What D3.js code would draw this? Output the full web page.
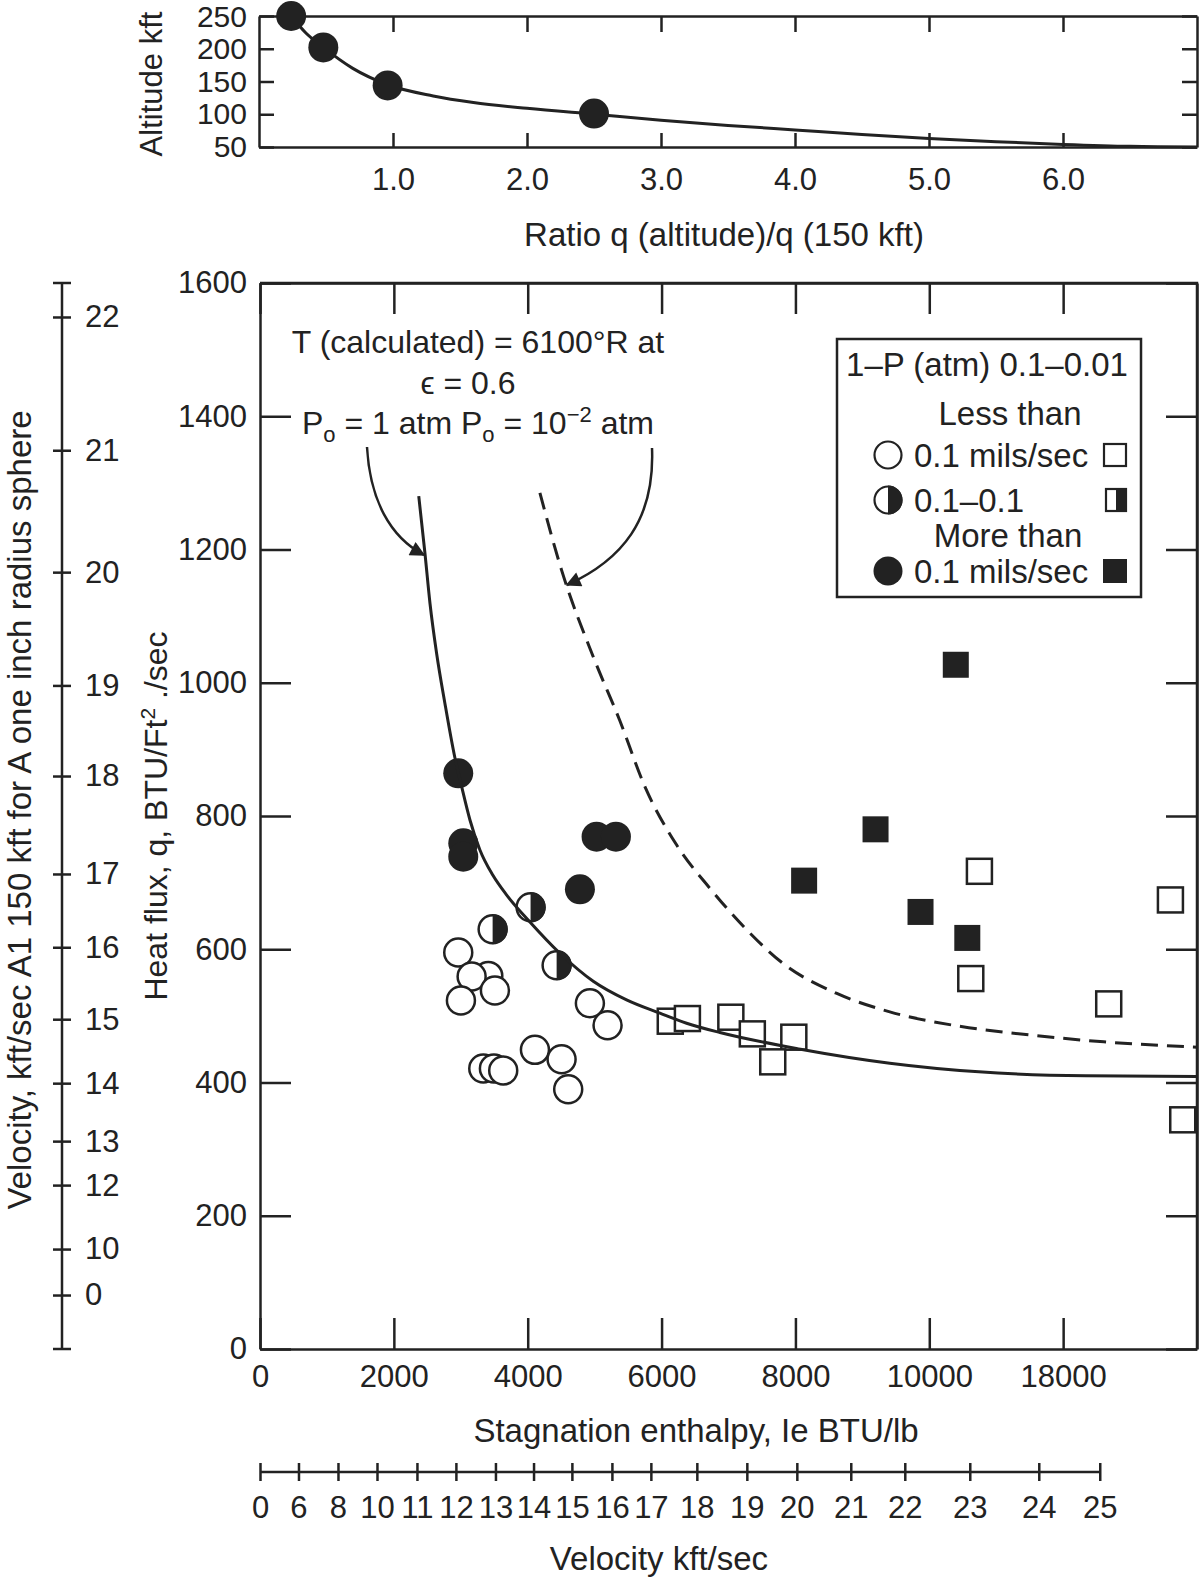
<!DOCTYPE html>
<html><head><meta charset="utf-8">
<script src="https://cdn.jsdelivr.net/npm/d3@7"></script>
<style>
body{margin:0;background:#fff}
text{font-family:"Liberation Sans",Arial,Helvetica,sans-serif;fill:#222}
</style>
</head><body>
<svg id="c" width="1200" height="1579"></svg>
<script>
// ---------- DATA ----------
// Inset: altitude (kft) vs ratio q(alt)/q(150 kft)
const insetDots = [[0.24,250],[0.48,202],[0.96,144],[2.5,101]];
const insetCurve = [[0.24,250],[0.35,224],[0.48,202],[0.7,170],[0.96,145],[1.3,128],[1.6,118],[2.0,109],[2.5,100],[3.0,91],[3.5,83],[4.0,76],[4.5,69],[5.0,63],[5.5,58],[6.0,54],[6.5,51],[7.0,50]];
const insetXTicks = [1,2,3,4,5,6];
const insetXTickLabels = ["1.0","2.0","3.0","4.0","5.0","6.0"];
const insetYTicks = [50,100,150,200,250];

// Main: stagnation enthalpy (axis position units) vs heat flux
const enthalpyTicks = [0,2000,4000,6000,8000,10000,12000];
const enthalpyTickLabels = ["0","2000","4000","6000","8000","10000","18000"];
const heatTicks = [0,200,400,600,800,1000,1200,1400,1600];

const curveP1 = [[2372,1280],[2465,1194],[2540,1119],[2639,1044],[2763,969],[2913,887],[3013,844],[3137,794],[3286,749],[3480,711],[3689,681],[4033,641],[4481,594],[4979,552],[5477,524],[5975,504],[6374,489],[6872,475],[8076,450],[9410,429],[10740,416],[12338,410],[14000,409]];
const curveP2 = [[4182,1285],[4506,1169],[4979,1039],[5377,943],[5751,844],[6209,759],[6743,689],[7274,629],[7811,579],[8610,534],[9410,506],[10477,484],[11545,471],[12607,461],[14000,453]];

const filledCircles = [[2962,864],[3037,759],[3037,739],[5029,769],[5318,769],[4780,690]];
const halfCircles = [[4043,663],[3476,630],[4432,576]];
const openCircles = [[2962,595],[3411,560],[3162,559],[3510,538],[3002,523],[4929,519],[5193,486],[4108,449],[4506,435],[3336,421],[3495,421],[3634,418],[4605,390]];
const filledSquares = [[10396,1027],[9197,780],[8130,703],[9869,656],[10568,617]];
const openSquares = [[10749,717],[13603,674],[10620,556],[12681,518],[6130,492],[6386,496],[7035,498],[7356,473],[7976,468],[7661,431],[13787,344]];

// Left velocity scale (positions in heat-flux units)
const velLeftLabels = ["22","21","20","19","18","17","16","15","14","13","12","10","0"];
const velLeftPos = [1549,1349,1166,996,860,713,603,495,399,312,246,150,81];
// Bottom velocity scale (positions in enthalpy units)
const velBottomLabels = ["0","6","8","10","11","12","13","14","15","16","17","18","19","20","21","22","23","24","25"];
const velBottomPos = [0,575,1165,1748,2345,2927,3518,4087,4660,5258,5840,6527,7274,8021,8827,9634,10605,11636,12547];

// ---------- DRAW ----------
const svg = d3.select("#c");
const INK = "#222";
const FS = 31;   // tick labels
const FT = 33;   // titles / legend

svg.append("defs").append("marker")
  .attr("id","arr").attr("viewBox","0 0 10 10").attr("refX",9).attr("refY",5)
  .attr("markerUnits","userSpaceOnUse").attr("markerWidth",20).attr("markerHeight",15)
  .attr("orient","auto")
  .append("path").attr("d","M0,0 L10,5 L0,10 Z").attr("fill",INK);

function styleAxis(g, fs){
  g.selectAll("path.domain").attr("stroke",INK).attr("stroke-width",2.5);
  g.selectAll(".tick line").attr("stroke",INK).attr("stroke-width",2.5);
  g.selectAll(".tick text").style("font-size",(fs||FS)+"px").attr("fill",INK)
    .style("font-family",'"Liberation Sans",Arial,sans-serif');
}

// ----- Inset -----
const ix = d3.scaleLinear().domain([0,7]).range([259,1197]);
const iy = d3.scaleLinear().domain([50,250]).range([147,16]);

svg.append("g").attr("transform","translate(0,147)")
  .call(d3.axisBottom(ix).tickValues(insetXTicks).tickFormat((d,i)=>insetXTickLabels[i]).tickSizeInner(-14).tickSizeOuter(0).tickPadding(21))
  .call(styleAxis);
svg.append("g").attr("transform","translate(0,16)")
  .call(d3.axisTop(ix).tickValues(insetXTicks).tickFormat("").tickSizeInner(-16).tickSizeOuter(0))
  .call(styleAxis);
const giy = svg.append("g").attr("transform","translate(259,0)")
  .call(d3.axisLeft(iy).tickValues(insetYTicks).tickFormat(d3.format("d")).tickSizeInner(-15).tickSizeOuter(0).tickPadding(12))
  .call(g=>styleAxis(g,30));
giy.selectAll(".tick text").filter(d=>d===250).attr("y",1);
svg.append("g").attr("transform","translate(1197,0)")
  .call(d3.axisRight(iy).tickValues(insetYTicks).tickFormat("").tickSizeInner(-15).tickSizeOuter(0))
  .call(styleAxis);

svg.append("path").datum(insetCurve)
  .attr("d", d3.line().x(d=>ix(d[0])).y(d=>iy(d[1])).curve(d3.curveMonotoneX))
  .attr("fill","none").attr("stroke",INK).attr("stroke-width",3);
svg.append("g").selectAll("circle").data(insetDots).join("circle")
  .attr("cx",d=>ix(d[0])).attr("cy",d=>iy(d[1])).attr("r",15).attr("fill",INK);

svg.append("text").attr("x",724).attr("y",234).attr("dy","0.35em").attr("text-anchor","middle")
  .style("font-size",FT+"px").text("Ratio q (altitude)/q (150 kft)");
svg.append("text").attr("transform","translate(151,84) rotate(-90)").attr("dy","0.35em").attr("text-anchor","middle")
  .style("font-size",FS+"px").text("Altitude kft");

// ----- Main plot -----
const x = d3.scaleLinear().domain([0,14000]).range([260,1197]);
const y = d3.scaleLinear().domain([0,1600]).range([1349,283]);

svg.append("g").attr("transform","translate(0,1349)")
  .call(d3.axisBottom(x).tickValues(enthalpyTicks).tickFormat((d,i)=>enthalpyTickLabels[i]).tickSizeInner(-31).tickSizeOuter(0).tickPadding(16))
  .call(styleAxis);
svg.append("g").attr("transform","translate(0,283)")
  .call(d3.axisTop(x).tickValues(enthalpyTicks).tickFormat("").tickSizeInner(-31).tickSizeOuter(0))
  .call(styleAxis);
svg.append("g").attr("transform","translate(260,0)")
  .call(d3.axisLeft(y).tickValues(heatTicks).tickFormat(d3.format("d")).tickSizeInner(-31).tickSizeOuter(0).tickPadding(13))
  .call(styleAxis);
svg.append("g").attr("transform","translate(1197,0)")
  .call(d3.axisRight(y).tickValues(heatTicks).tickFormat("").tickSizeInner(-31).tickSizeOuter(0))
  .call(styleAxis);
svg.append("path").attr("d",`M${x(0)},${y(1600)}H${x(14000)}V${y(0)}`).attr("fill","none").attr("stroke",INK).attr("stroke-width",2.5);

// markers
const pts = svg.append("g");
pts.selectAll("rect.os").data(openSquares).join("rect").attr("class","os")
  .attr("x",d=>x(d[0])-12.5).attr("y",d=>y(d[1])-12.5).attr("width",25).attr("height",25)
  .attr("fill","#fff").attr("stroke",INK).attr("stroke-width",2.5);
pts.selectAll("rect.fs").data(filledSquares).join("rect").attr("class","fs")
  .attr("x",d=>x(d[0])-13).attr("y",d=>y(d[1])-13).attr("width",26).attr("height",26)
  .attr("fill",INK);
pts.selectAll("circle.oc").data(openCircles).join("circle").attr("class","oc")
  .attr("cx",d=>x(d[0])).attr("cy",d=>y(d[1])).attr("r",14)
  .attr("fill","#fff").attr("stroke",INK).attr("stroke-width",2.5);
const hc = pts.selectAll("g.hc").data(halfCircles).join("g").attr("class","hc")
  .attr("transform",d=>`translate(${x(d[0])},${y(d[1])})`);
hc.append("circle").attr("r",14).attr("fill","#fff").attr("stroke",INK).attr("stroke-width",2.5);
hc.append("path").attr("d","M0,-15 A15,15 0 0 1 0,15 Z").attr("fill",INK);
pts.selectAll("circle.fc").data(filledCircles).join("circle").attr("class","fc")
  .attr("cx",d=>x(d[0])).attr("cy",d=>y(d[1])).attr("r",15).attr("fill",INK);

// curves
const line = d3.line().x(d=>x(d[0])).y(d=>y(d[1])).curve(d3.curveMonotoneX);
svg.append("path").datum(curveP1).attr("d",line).attr("fill","none").attr("stroke",INK).attr("stroke-width",3);
svg.append("path").datum(curveP2).attr("d",line).attr("fill","none").attr("stroke",INK).attr("stroke-width",3)
  .attr("stroke-dasharray","17,9");

// annotation
const ann = svg.append("g").style("font-size","32px");
ann.append("text").attr("x",478).attr("y",342).attr("dy","0.35em").attr("text-anchor","middle")
  .text("T (calculated) = 6100°R at");
ann.append("text").attr("x",468).attr("y",383).attr("dy","0.35em").attr("text-anchor","middle")
  .text("ϵ = 0.6");
const t3 = ann.append("text").attr("x",478).attr("y",423).attr("dy","0.35em").attr("text-anchor","middle");
t3.append("tspan").text("P");
t3.append("tspan").attr("dy",8).style("font-size","22px").text("o");
t3.append("tspan").attr("dy",-8).text(" = 1 atm P");
t3.append("tspan").attr("dy",8).style("font-size","22px").text("o");
t3.append("tspan").attr("dy",-8).text(" = 10");
t3.append("tspan").attr("dy",-12).style("font-size","22px").text("−2");
t3.append("tspan").attr("dy",12).text(" atm");

svg.append("path").attr("d","M367,447 C370,500 390,537 424,555")
  .attr("fill","none").attr("stroke",INK).attr("stroke-width",2.5).attr("marker-end","url(#arr)");
svg.append("path").attr("d","M652,448 C655,520 622,560 567,585")
  .attr("fill","none").attr("stroke",INK).attr("stroke-width",2.5).attr("marker-end","url(#arr)");

// legend
const lg = svg.append("g");
lg.append("rect").attr("x",837).attr("y",339).attr("width",304).attr("height",258)
  .attr("fill","#fff").attr("stroke",INK).attr("stroke-width",2.5);
const lt = (tx,ty,s,anchor)=>lg.append("text").attr("x",tx).attr("y",ty).attr("dy","0.35em")
  .attr("text-anchor",anchor||"start").style("font-size",FT+"px").text(s);
lt(987,364,"1–P (atm) 0.1–0.01","middle");
lt(1010,413,"Less than","middle");
lt(914,455,"0.1 mils/sec");
lt(914,500,"0.1–0.1");
lt(1008,535,"More than","middle");
lt(914,571,"0.1 mils/sec");
lg.append("circle").attr("cx",888).attr("cy",455).attr("r",13.5).attr("fill","#fff").attr("stroke",INK).attr("stroke-width",2.2);
lg.append("circle").attr("cx",888).attr("cy",500).attr("r",13.5).attr("fill","#fff").attr("stroke",INK).attr("stroke-width",2.2);
lg.append("path").attr("d","M888,485.5 A14.5,14.5 0 0 1 888,514.5 Z").attr("fill",INK);
lg.append("circle").attr("cx",888).attr("cy",571).attr("r",14.5).attr("fill",INK);
lg.append("rect").attr("x",1104).attr("y",444).attr("width",22).attr("height",22).attr("fill","#fff").attr("stroke",INK).attr("stroke-width",2.2);
lg.append("rect").attr("x",1106).attr("y",489).attr("width",20).attr("height",22).attr("fill","#fff").attr("stroke",INK).attr("stroke-width",2.2);
lg.append("rect").attr("x",1116).attr("y",489).attr("width",10).attr("height",22).attr("fill",INK);
lg.append("rect").attr("x",1103).attr("y",559).attr("width",24).attr("height",24).attr("fill",INK);

// axis titles
svg.append("text").attr("x",696).attr("y",1430).attr("dy","0.35em").attr("text-anchor","middle")
  .style("font-size",FT+"px").text("Stagnation enthalpy, Ie BTU/lb");
svg.append("text").attr("x",659).attr("y",1558).attr("dy","0.35em").attr("text-anchor","middle")
  .style("font-size",FT+"px").text("Velocity kft/sec");
const hf = svg.append("text").attr("transform","translate(156,816) rotate(-90)").attr("dy","0.35em")
  .attr("text-anchor","middle").style("font-size","32px");
hf.append("tspan").text("Heat flux, q, BTU/Ft");
hf.append("tspan").attr("dy",-12).style("font-size","21px").text("2");
hf.append("tspan").attr("dy",12).text(" ./sec");
svg.append("text").attr("transform","translate(19,810) rotate(-90)").attr("dy","0.35em")
  .attr("text-anchor","middle").style("font-size",FT+"px")
  .text("Velocity, kft/sec A1 150 kft for A one inch radius sphere");

// left velocity axis
const gvl = svg.append("g").attr("transform","translate(53,0)")
  .call(d3.axisRight(y).tickValues(velLeftPos).tickFormat((d,i)=>velLeftLabels[i]).tickSize(18).tickPadding(14))
  .call(styleAxis);
gvl.select("path.domain").remove();
svg.append("line").attr("x1",62).attr("x2",62).attr("y1",y(0)).attr("y2",y(1600)).attr("stroke",INK).attr("stroke-width",2.5);
[0,1600].forEach(v=>svg.append("line").attr("x1",53).attr("x2",71).attr("y1",y(v)).attr("y2",y(v)).attr("stroke",INK).attr("stroke-width",2.5));

// bottom velocity axis
const gvb = svg.append("g").attr("transform","translate(0,1463)")
  .call(d3.axisBottom(x).tickValues(velBottomPos).tickFormat((d,i)=>velBottomLabels[i]).tickSize(18).tickPadding(15))
  .call(styleAxis);
gvb.select("path.domain").remove();
svg.append("line").attr("x1",x(0)).attr("x2",x(velBottomPos[velBottomPos.length-1])).attr("y1",1472).attr("y2",1472)
  .attr("stroke",INK).attr("stroke-width",2.5);
</script>
</body></html>
